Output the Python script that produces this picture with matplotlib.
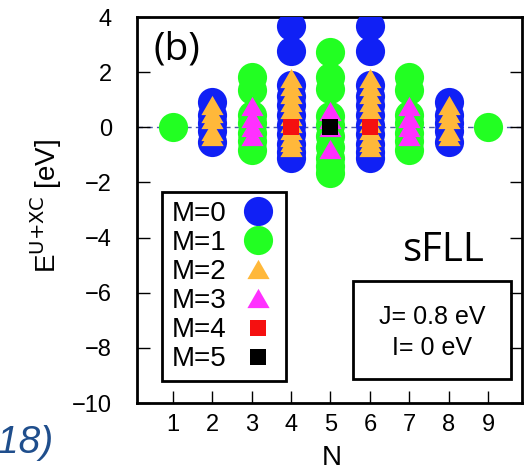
import numpy as np
import matplotlib.pyplot as plt
from matplotlib.patches import Rectangle

plt.rcParams['font.family'] = ['Liberation Sans', 'DejaVu Sans']

# energies (eV) of the multiplets, per spin moment M, per electron count N
n_m0 = [2, 4, 6, 8]
e_m0 = [[0.92, 0.45, 0.15, -0.15, -0.53],
        [3.66, 2.76, 1.52, 1.15, 0.8, 0.45, 0.1, -0.25, -0.6, -0.9, -1.13],
        [3.66, 2.76, 1.52, 1.15, 0.8, 0.45, 0.1, -0.25, -0.6, -0.9, -1.13],
        [0.92, 0.45, 0.15, -0.15, -0.53]]

n_m1 = [1, 3, 5, 7, 9]
e_m1 = [[0.0],
        [1.82, 1.36, 0.43, 0.15, -0.2, -0.5, -0.81],
        [2.74, 1.82, 1.4, 0.41, 0.1, -0.3, -0.7, -1.1, -1.4, -1.65],
        [1.82, 1.36, 0.43, 0.15, -0.2, -0.5, -0.81],
        [0.0]]

n_m2 = [2, 4, 6, 8]
e_m2 = [[0.80, 0.53, 0.29, -0.13, -0.31],
        [1.77, 1.5, 1.2, 0.9, 0.65, 0.4, 0.15, -0.1, -0.35, -0.55, -0.73],
        [1.77, 1.5, 1.2, 0.9, 0.65, 0.4, 0.15, -0.1, -0.35, -0.55, -0.73],
        [0.80, 0.53, 0.29, -0.13, -0.31]]

n_m3 = [3, 5, 7]
e_m3 = [[0.76, 0.35, 0.0, -0.32],
        [0.58, 0.3, 0.0, -0.8],
        [0.76, 0.35, 0.0, -0.32]]

n_m4 = [4, 6]
e_m4 = [[0.0], [0.0]]

n_m5 = [5]
e_m5 = [[0.0]]

x_ticks = [1, 2, 3, 4, 5, 6, 7, 8, 9]
y_ticks = [-10, -8, -6, -4, -2, 0, 2, 4]

tri = [(-1, -0.866), (1, -0.866), (0, 0.866), (-1, -0.866)]

series = [
    (n_m0, e_m0, 'M=0', '#1020f5', 'o', 21),
    (n_m1, e_m1, 'M=1', '#22ff22', 'o', 21),
    (n_m2, e_m2, 'M=2', '#ffb83a', tri, 16),
    (n_m3, e_m3, 'M=3', '#ff30ff', tri, 16),
    (n_m4, e_m4, 'M=4', '#f51010', 's', 11.5),
    (n_m5, e_m5, 'M=5', '#000000', 's', 11.5),
]

fig = plt.figure(figsize=(5.27, 4.72), dpi=100)
ax = fig.add_axes([137/527, 1 - 403/472, 385/527, 386/472])

ax.axhline(0, color='#4a5aa8', lw=1, dashes=(4, 3), zorder=1)

handles = []
for ns, es, lab, col, mk, ms in series:
    xs = [n for n, e in zip(ns, es) for _ in e]
    ys = [v for e in es for v in e]
    h, = ax.plot(xs, ys, ls='none', marker=mk, ms=ms, color=col,
                 markeredgewidth=0, label=lab, zorder=3)
    handles.append(h)

ax.set_xlim(0.09, 9.86)
ax.set_ylim(-10, 4)
ax.set_xticks(x_ticks)
ax.set_yticks(y_ticks)
ax.tick_params(axis='x', direction='in', length=9, width=1, labelsize=17, pad=8)
ax.tick_params(axis='y', direction='in', length=9, width=1, labelsize=17, pad=18,
               right=True)
for s in ax.spines.values():
    s.set_linewidth(2)

ax.set_xlabel('N', fontsize=20)
ax.xaxis.set_label_coords(0.505, -0.11)
ax.set_ylabel(r'E$^{\mathrm{U{+}XC}}$ [eV]', fontsize=20)
ax.yaxis.set_label_coords(-0.19, 0.51)

leg = ax.legend(handles=handles, loc='upper left', bbox_to_anchor=(0.066, 0.547),
                borderaxespad=0, markerfirst=False, fontsize=20, labelspacing=0.11,
                handlelength=1.36, handletextpad=0.45, borderpad=0.33,
                fancybox=False, framealpha=1, edgecolor='black')
leg.get_frame().set_linewidth(2)

ax.add_patch(Rectangle((0.561, 0.062), 0.41, 0.255, transform=ax.transAxes,
                       fill=False, lw=2, ec='black', zorder=5))
ax.text(0.766, 0.2236, 'J= 0.8 eV', transform=ax.transAxes, ha='center',
        va='center', fontsize=18)
ax.text(0.766, 0.1417, 'I= 0 eV', transform=ax.transAxes, ha='center',
        va='center', fontsize=18)

ax.text(0.692, 0.367, 'sFLL', transform=ax.transAxes, ha='left', va='baseline',
        fontsize=29, family=['Open Sans', 'DejaVu Sans'])
ax.text(0.042, 0.889, '(b)', transform=ax.transAxes, ha='left', va='baseline',
        fontsize=28, family=['Open Sans', 'DejaVu Sans'])

fig.text(53/527, 1 - 453/472, '18)', ha='right', va='baseline', fontsize=28,
         style='italic', color='#1f4e8c')

fig.savefig('out.png', dpi=100)
